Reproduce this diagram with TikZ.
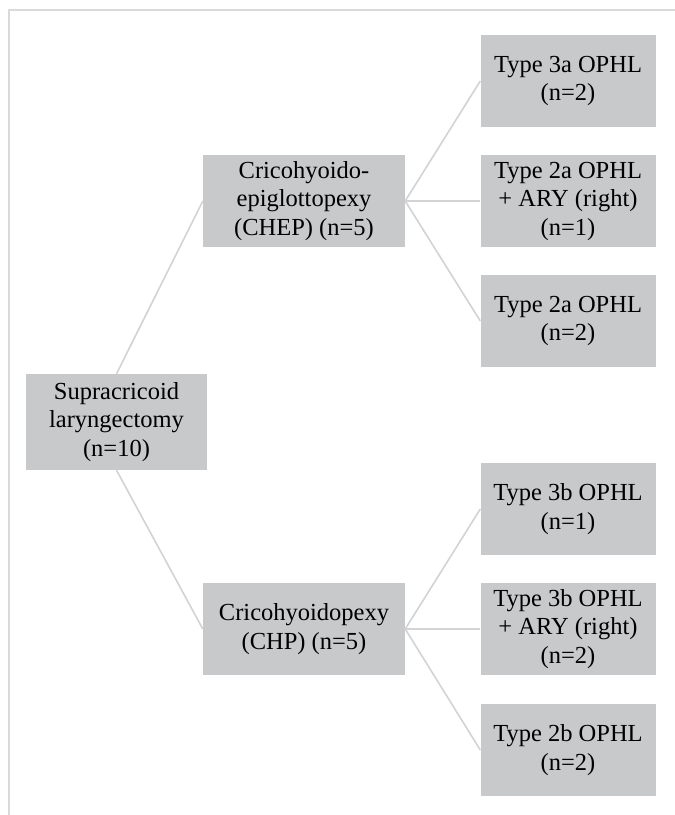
\documentclass[tikz,border=0pt]{standalone}
\usepackage{fontspec}
\setmainfont{Liberation Serif}
\definecolor{boxgray}{HTML}{C8C9CB}
\definecolor{linegray}{HTML}{D3D3D3}
\definecolor{framegray}{HTML}{DADADA}
\begin{document}
\begin{tikzpicture}[x=1pt,y=-1pt,
  box/.style={fill=boxgray, draw=none, align=center, inner sep=0pt,
    font=\fontsize{24.5}{28.5}\selectfont, text=black},
  rootbox/.style={box, minimum width=181pt, minimum height=96pt},
  midbox/.style={box, minimum width=202pt, minimum height=92pt},
  leafbox/.style={box, minimum width=175pt, minimum height=92pt},
  conn/.style={draw=linegray, line width=1.6pt},
  frame/.style={draw=framegray, line width=2.4pt}]
\useasboundingbox (0,0) rectangle (675,815);
\draw[frame] (9,815) -- (9,10) -- (675,10);
\node[rootbox] (root) at (116.5,422) {Supracricoid\\laryngectomy\\(n=10)};
\node[midbox] (chep) at (304,201) {Cricohyoido-\\epiglottopexy\\(CHEP) (n=5)};
\node[midbox] (chp) at (304,629) {Cricohyoidopexy\\(CHP) (n=5)};
\node[leafbox] (l1) at (568,81) {Type 3a OPHL\\(n=2)};
\node[leafbox] (l2) at (568,201) {Type 2a OPHL\\+ ARY (right)\\(n=1)};
\node[leafbox] (l3) at (568,321) {Type 2a OPHL\\(n=2)};
\node[leafbox] (l4) at (568,509) {Type 3b OPHL\\(n=1)};
\node[leafbox] (l5) at (568,629) {Type 3b OPHL\\+ ARY (right)\\(n=2)};
\node[leafbox] (l6) at (568,750) {Type 2b OPHL\\(n=2)};
\draw[conn] (root.north) -- (chep.west);
\draw[conn] (root.south) -- (chp.west);
\foreach \t in {l1,l2,l3} \draw[conn] (chep.east) -- (\t.west);
\foreach \t in {l4,l5,l6} \draw[conn] (chp.east) -- (\t.west);
\end{tikzpicture}
\end{document}
